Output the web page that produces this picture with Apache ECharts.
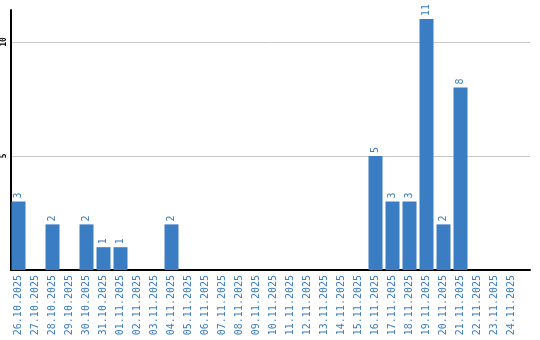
<!DOCTYPE html>
<html><head><meta charset="utf-8">
<script src="https://cdn.jsdelivr.net/npm/echarts@6/dist/echarts.min.js"></script>
<style>html,body{margin:0;padding:0;background:#fff}#c{width:540px;height:340px}</style>
</head><body><div id="c"></div>
<script>
const categories = ["26.10.2025","27.10.2025","28.10.2025","29.10.2025","30.10.2025","31.10.2025","01.11.2025","02.11.2025","03.11.2025","04.11.2025","05.11.2025","06.11.2025","07.11.2025","08.11.2025","09.11.2025","10.11.2025","11.11.2025","12.11.2025","13.11.2025","14.11.2025","15.11.2025","16.11.2025","17.11.2025","18.11.2025","19.11.2025","20.11.2025","21.11.2025","22.11.2025","23.11.2025","24.11.2025"];
const values = [3,0,2,0,2,1,1,0,0,2,0,0,0,0,0,0,0,0,0,0,0,5,3,3,11,2,8,0,0,0];
const yTicks = [5,10];
const yMax = 11.4;

const chart = echarts.init(document.getElementById('c'));
chart.setOption({
  animation:false,
  grid:[
    {left:10,right:10,top:10,bottom:70,containLabel:false},
    {left:10,right:20,top:10,bottom:70,containLabel:false}
  ],
  xAxis:[
    {gridIndex:0,type:'category',data:[''],
      axisLine:{lineStyle:{color:'#000',width:2}},
      axisTick:{show:false},axisLabel:{show:false},splitLine:{show:false}},
    {gridIndex:1,type:'category',data:categories,
      axisLine:{show:false},
      axisTick:{show:false},
      axisLabel:{rotate:90,interval:0,margin:5,color:'#3a7cc0',fontFamily:'DejaVu Sans Mono',fontSize:10}}
  ],
  yAxis:[
    {gridIndex:0,type:'value',min:0,max:yMax,interval:5,
      axisLine:{show:true,lineStyle:{color:'#000',width:2}},
      axisTick:{show:false},
      splitLine:{show:true,showMaxLine:false,lineStyle:{color:'#c8c8c8',width:1}},
      axisLabel:{rotate:90,margin:3,color:'#000',fontFamily:'DejaVu Sans Mono',fontSize:8,fontWeight:'bold',
        formatter:v=>yTicks.includes(v)?String(v):''}},
    {gridIndex:1,type:'value',min:0,max:yMax,interval:5,show:false}
  ],
  series:[{type:'bar',xAxisIndex:1,yAxisIndex:1,data:values.map(v=>v===0?null:v),barWidth:14,
    itemStyle:{color:'#3b7dc2'},
    label:{show:true,position:'top',rotate:90,align:'left',verticalAlign:'middle',distance:3,
      color:'#3a7cc0',fontFamily:'DejaVu Sans Mono',fontSize:10}}]
});
</script></body></html>
